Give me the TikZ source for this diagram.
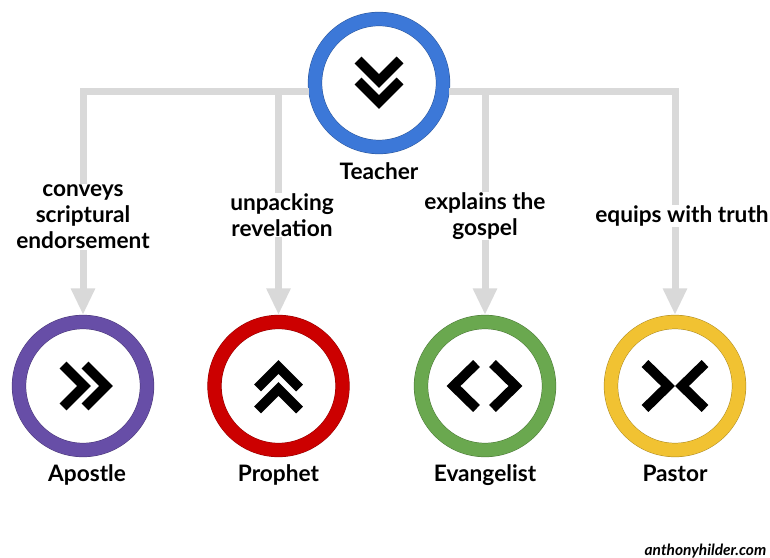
\documentclass[tikz,border=0pt]{standalone}
\usepackage{fontspec}
\setmainfont{Lato}
\usetikzlibrary{arrows.meta}
\definecolor{linkgray}{HTML}{D9D9D9}
\definecolor{teachblue}{HTML}{3C78D8}
\definecolor{apostlepurple}{HTML}{674EA7}
\definecolor{prophetred}{HTML}{CC0000}
\definecolor{evangreen}{HTML}{6AA84F}
\definecolor{pastoryellow}{HTML}{F1C232}
\tikzset{
  ring/.style={draw=#1!70!black, double=#1, double distance=10pt, line width=0.35pt, fill=white, circle, inner sep=0pt, minimum size=96pt, outer sep=5.25pt},
  link/.style={draw=linkgray, line width=5.25pt, -{Triangle[length=20pt,width=17pt]}},
  rolename/.style={font=\fontsize{17}{19}\selectfont\bfseries, anchor=base},
  note/.style={font=\fontsize{17}{19.5}\selectfont\bfseries, align=center, fill=white, inner sep=0.5pt},
  chevron/.pic={\draw[line width=7.3pt, miter limit=4] (-21,21) -- (0,0) -- (21,21);},
  bigchevron/.pic={\draw[line width=7.3pt, miter limit=4] (-22.5,23) -- (0,0) -- (22.5,23);}
}
\begin{document}
\begin{tikzpicture}[x=0.75pt,y=0.75pt]
\useasboundingbox (0,0) rectangle (770,557);

\node[ring=teachblue] (teacher) at (379,474) {};
\node[ring=apostlepurple] (apostle) at (83,171) {};
\node[ring=prophetred] (prophet) at (278.5,171) {};
\node[ring=evangreen] (evangelist) at (485,171) {};
\node[ring=pastoryellow] (pastor) at (675,171) {};

\path[link] (teacher.187) -| (apostle.north);
\path[link] (teacher.187) -| (prophet.north);
\path[link] (teacher.-7) -| (evangelist.north);
\path[link] (teacher.-7) -| (pastor.north);

\pic at (379,476) {chevron};
\pic at (379,455) {chevron};
\pic[rotate=90] at (84,171) {chevron};
\pic[rotate=90] at (106,171) {chevron};
\pic[rotate=180] at (278.5,190) {chevron};
\pic[rotate=180] at (278.5,168) {chevron};
\pic[rotate=-90] at (453.5,171) {bigchevron};
\pic[rotate=90] at (515.5,171) {bigchevron};
\pic[rotate=90] at (668,171) {bigchevron};
\pic[rotate=-90] at (682,171) {bigchevron};

\node[rolename] (teacherlabel) at (379,377) {Teacher};
\node[rolename] (apostlelabel) at (87,76) {Apostle};
\node[rolename] (prophetlabel) at (278.5,76) {Prophet};
\node[rolename] (evangelistlabel) at (485,76) {Evangelist};
\node[rolename] (pastorlabel) at (675,76) {Pastor};

\node[note] (conveys) at (83,340) {conveys\\scriptural\\endorsement};
\node[note] (unpacking) at (282,342) {unpacking\\revelation};
\node[note] (explains) at (485,341) {explains the\\gospel};
\node[note] (equips) at (682,341) {equips with truth};

\node[font=\fontsize{11.6}{12}\selectfont\bfseries\itshape, anchor=east] (site) at (771,6) {anthonyhilder.com};
\end{tikzpicture}
\end{document}
